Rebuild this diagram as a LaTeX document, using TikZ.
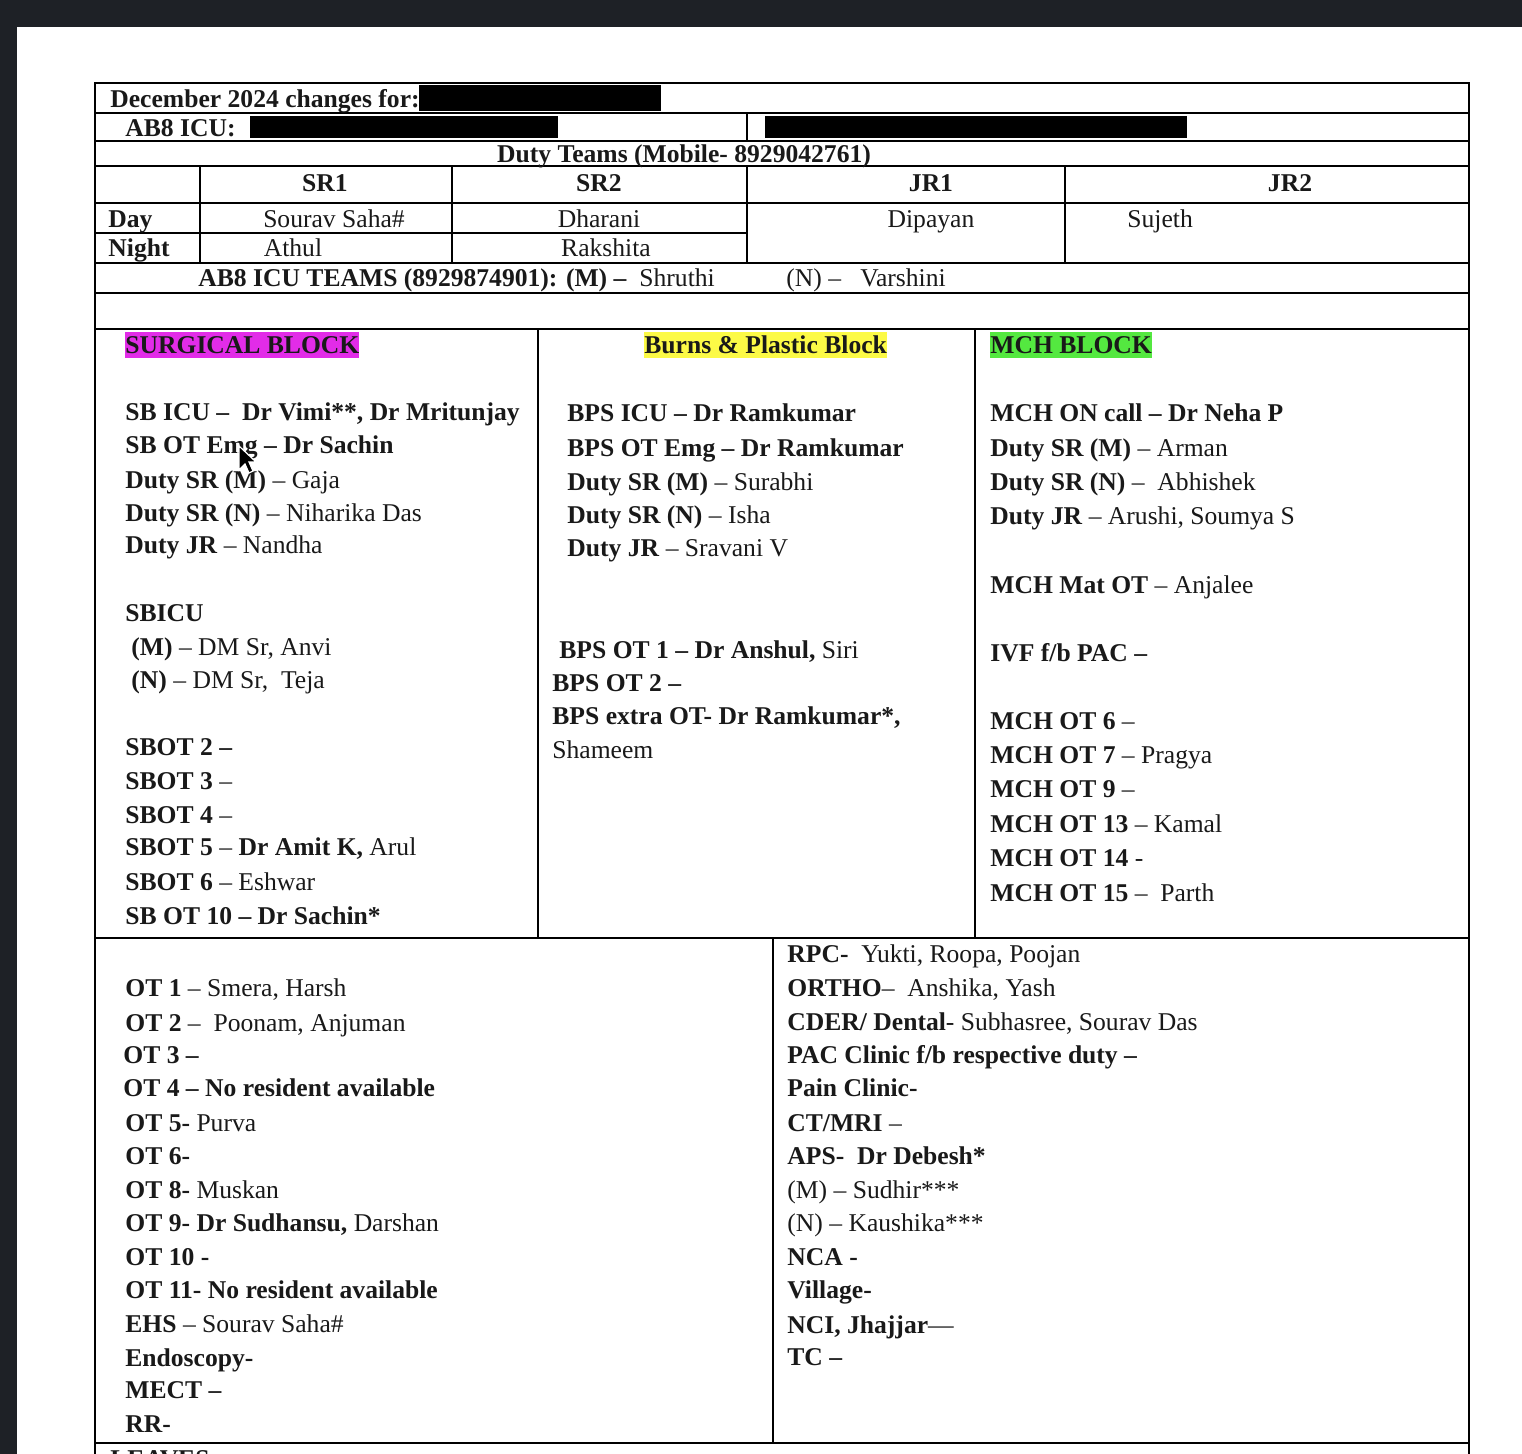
\documentclass[tikz,border=0pt]{standalone}
\usepackage{fontspec}
\setmainfont{Liberation Serif}
\usepackage{xcolor}
\usepackage{tikz}

\definecolor{screendark}{RGB}{30,33,38}
\definecolor{surgpink}{RGB}{226,44,232}
\definecolor{burnyellow}{RGB}{252,250,70}
\definecolor{mchgreen}{RGB}{84,232,64}
\newcommand{\rotafont}{\fontsize{12.8}{15}\selectfont}

\begin{document}
\begin{tikzpicture}[
x=0.5pt, y=-0.5pt,
rule/.style={draw=black, line width=0.9pt},
entry/.style={anchor=base west, inner sep=0pt, font=\rotafont, text=black!90},
cell/.style={anchor=base, inner sep=0pt, font=\rotafont, text=black!90},
head/.style={cell, font=\rotafont\bfseries},
hl/.style={anchor=base west, inner sep=0pt, text height=11pt, text depth=2pt, font=\rotafont\bfseries, text=black!90}
]
\useasboundingbox (0,0) rectangle (1522,1454);
\clip (0,0) rectangle (1522,1454);
\fill[screendark] (0,0) rectangle (1522,1454);
\fill[white] (17,27) rectangle (1522,1454);

\draw[rule] (95,1454) -- (95,83) -- (1469,83) -- (1469,1454);
\draw[rule] (95,113) -- (1469,113);
\draw[rule] (95,141) -- (1469,141);
\draw[rule] (95,166) -- (1469,166);
\draw[rule] (95,203) -- (1469,203);
\draw[rule] (95,233) -- (747,233);
\draw[rule] (95,263) -- (1469,263);
\draw[rule] (95,293) -- (1469,293);
\draw[rule] (95,329) -- (1469,329);
\draw[rule] (95,938) -- (1469,938);
\draw[rule, line width=1.4pt] (95,1443) -- (1469,1443);
\draw[rule] (747,113) -- (747,141);
\draw[rule] (200,166) -- (200,263);
\draw[rule] (452,166) -- (452,263);
\draw[rule] (747,166) -- (747,263);
\draw[rule] (1065,166) -- (1065,263);
\draw[rule] (538,329) -- (538,938);
\draw[rule] (975,329) -- (975,938);
\draw[rule] (773,938) -- (773,1443);

\fill[black] (419,85) rectangle (661,111);
\fill[black] (250,116) rectangle (558,138);
\fill[black] (765,116) rectangle (1187,138);

\node[entry, font=\rotafont\bfseries] (dec) at (110,108) {December 2024 changes for:};
\node[entry, font=\rotafont\bfseries] (icu) at (125,137) {AB8 ICU:};
\node[head] (duty) at (684,163) {Duty Teams (Mobile- 8929042761)};

\node[head] (sr1) at (325,192) {SR1};
\node[head] (sr2) at (599,192) {SR2};
\node[head] (jr1) at (931,192) {JR1};
\node[head] (jr2) at (1290,192) {JR2};

\node[entry, font=\rotafont\bfseries] (day) at (108,228) {Day};
\node[entry, font=\rotafont\bfseries] (night) at (108,257) {Night};
\node[cell] (d1) at (334,228) {Sourav Saha\#};
\node[cell] (d2) at (599,228) {Dharani};
\node[cell] (d3) at (931,228) {Dipayan};
\node[entry] (d4) at (1127,228) {Sujeth};
\node[cell] (n1) at (293,257) {Athul};
\node[cell] (n2) at (606,257) {Rakshita};

\node[entry] (teams) at (198,287) {\textbf{AB8 ICU TEAMS (8929874901): (M) –}\ \ Shruthi};
\node[entry] (teamsn) at (786,287) {(N) –\ \ \ Varshini};

\node[hl, fill=surgpink] (sbh) at (125,354) {SURGICAL BLOCK};
\node[hl, fill=burnyellow] (bph) at (644,354) {Burns \& Plastic Block};
\node[hl, fill=mchgreen] (mchh) at (990,354) {MCH BLOCK};

\node[entry] (sb1) at (125,421) {\textbf{SB ICU –\ \ Dr Vimi**, Dr Mritunjay}};
\node[entry] (sb2) at (125,454) {\textbf{SB OT Emg – Dr Sachin}};
\node[entry] (sb3) at (125,489) {\textbf{Duty SR (M)} – Gaja};
\node[entry] (sb4) at (125,522) {\textbf{Duty SR (N)} – Niharika Das};
\node[entry] (sb5) at (125,554) {\textbf{Duty JR} – Nandha};
\node[entry] (sb6) at (125,622) {\textbf{SBICU}};
\node[entry] (sb7) at (131,656) {\textbf{(M)} – DM Sr, Anvi};
\node[entry] (sb8) at (131,689) {\textbf{(N)} – DM Sr,\ \ Teja};
\node[entry] (sb9) at (125,756) {\textbf{SBOT 2 –}};
\node[entry] (sb10) at (125,790) {\textbf{SBOT 3} –};
\node[entry] (sb11) at (125,824) {\textbf{SBOT 4} –};
\node[entry] (sb12) at (125,856) {\textbf{SBOT 5} – \textbf{Dr Amit K,} Arul};
\node[entry] (sb13) at (125,891) {\textbf{SBOT 6} – Eshwar};
\node[entry] (sb14) at (125,924) {\textbf{SB OT 10 – Dr Sachin*}};

\node[entry] (bp1) at (567,422) {\textbf{BPS ICU – Dr Ramkumar}};
\node[entry] (bp2) at (567,457) {\textbf{BPS OT Emg – Dr Ramkumar}};
\node[entry] (bp3) at (567,491) {\textbf{Duty SR (M)} – Surabhi};
\node[entry] (bp4) at (567,524) {\textbf{Duty SR (N)} – Isha};
\node[entry] (bp5) at (567,557) {\textbf{Duty JR} – Sravani V};
\node[entry] (bp6) at (559,659) {\textbf{BPS OT 1 – Dr Anshul,} Siri};
\node[entry] (bp7) at (552,692) {\textbf{BPS OT 2 –}};
\node[entry] (bp8) at (552,725) {\textbf{BPS extra OT- Dr Ramkumar*,}};
\node[entry] (bp9) at (552,759) {Shameem};

\node[entry] (mch1) at (990,422) {\textbf{MCH ON call – Dr Neha P}};
\node[entry] (mch2) at (990,457) {\textbf{Duty SR (M)} – Arman};
\node[entry] (mch3) at (990,491) {\textbf{Duty SR (N)} –\ \ Abhishek};
\node[entry] (mch4) at (990,525) {\textbf{Duty JR} – Arushi, Soumya S};
\node[entry] (mch5) at (990,594) {\textbf{MCH Mat OT} – Anjalee};
\node[entry] (mch6) at (990,662) {\textbf{IVF f/b PAC –}};
\node[entry] (mch7) at (990,730) {\textbf{MCH OT 6} –};
\node[entry] (mch8) at (990,764) {\textbf{MCH OT 7} – Pragya};
\node[entry] (mch9) at (990,798) {\textbf{MCH OT 9} –};
\node[entry] (mch10) at (990,833) {\textbf{MCH OT 13} – Kamal};
\node[entry] (mch11) at (990,867) {\textbf{MCH OT 14} -};
\node[entry] (mch12) at (990,901) {\textbf{MCH OT 15} –\ \ Parth};

\node[entry] (ot1) at (125,996) {\textbf{OT 1} – Smera, Harsh};
\node[entry] (ot2) at (125,1031) {\textbf{OT 2} –\ \ Poonam, Anjuman};
\node[entry] (ot3) at (123,1063) {\textbf{OT 3 –}};
\node[entry] (ot4) at (123,1096) {\textbf{OT 4 – No resident available}};
\node[entry] (ot5) at (125,1131) {\textbf{OT 5-} Purva};
\node[entry] (ot6) at (125,1164) {\textbf{OT 6-}};
\node[entry] (ot8) at (125,1198) {\textbf{OT 8-} Muskan};
\node[entry] (ot9) at (125,1231) {\textbf{OT 9- Dr Sudhansu,} Darshan};
\node[entry] (ot10) at (125,1265) {\textbf{OT 10 -}};
\node[entry] (ot11) at (125,1298) {\textbf{OT 11- No resident available}};
\node[entry] (ehs) at (125,1332) {\textbf{EHS} – Sourav Saha\#};
\node[entry] (endo) at (125,1366) {\textbf{Endoscopy-}};
\node[entry] (mect) at (125,1398) {\textbf{MECT –}};
\node[entry] (rr) at (125,1432) {\textbf{RR-}};

\node[entry] (rpc) at (787,962) {\textbf{RPC-}\ \ Yukti, Roopa, Poojan};
\node[entry] (ortho) at (787,996) {\textbf{ORTHO}–\ \ Anshika, Yash};
\node[entry] (cder) at (787,1030) {\textbf{CDER/ Dental}- Subhasree, Sourav Das};
\node[entry] (pac) at (787,1063) {\textbf{PAC Clinic f/b respective duty –}};
\node[entry] (pain) at (787,1096) {\textbf{Pain Clinic-}};
\node[entry] (ct) at (787,1131) {\textbf{CT/MRI} –};
\node[entry] (aps) at (787,1164) {\textbf{APS-\ \ Dr Debesh*}};
\node[entry] (apsm) at (787,1198) {(M) – Sudhir***};
\node[entry] (apsn) at (787,1231) {(N) – Kaushika***};
\node[entry] (nca) at (787,1265) {\textbf{NCA -}};
\node[entry] (vil) at (787,1298) {\textbf{Village-}};
\node[entry] (nci) at (787,1333) {\textbf{NCI, Jhajjar}—};
\node[entry] (tc) at (787,1365) {\textbf{TC –}};

\node[entry, font=\rotafont\bfseries] (leaves) at (110,1467) {LEAVES};

\filldraw[fill=black, draw=white, line width=0.6pt] (239,446) -- (239,470) -- (245,464) -- (249,473) -- (253,471) -- (249,462) -- (256,462) -- cycle;
\end{tikzpicture}
\end{document}
